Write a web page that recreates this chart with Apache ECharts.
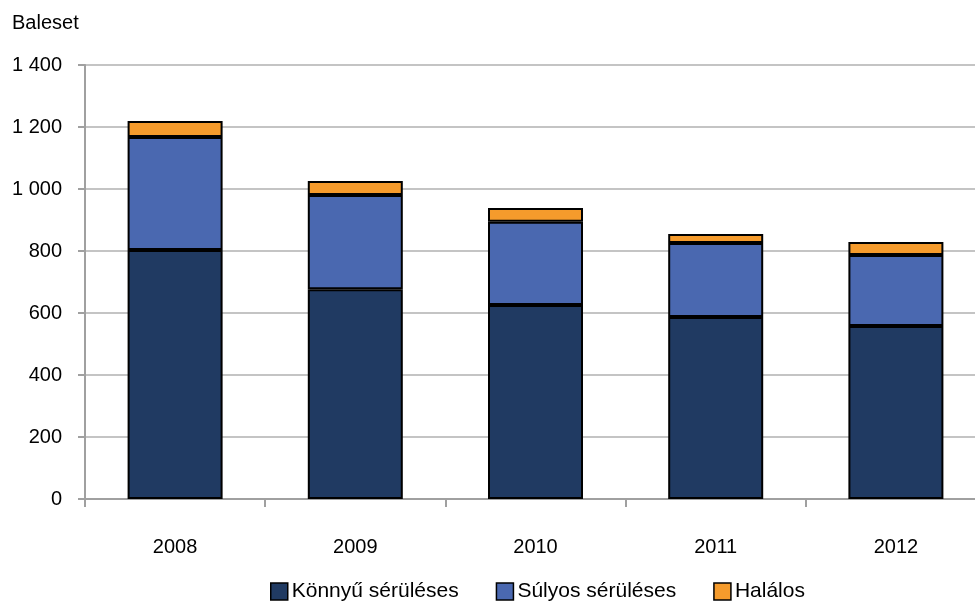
<!DOCTYPE html>
<html><head><meta charset="utf-8">
<script src="https://cdn.jsdelivr.net/npm/echarts@6/dist/echarts.min.js"></script>
<style>html,body{margin:0;padding:0;background:#fff;overflow:hidden;width:975px;height:603px}#c{width:995px;height:603px}</style>
</head><body><div id="c"></div>
<script>
var categories = ['2008','2009','2010','2011','2012'];
var konnyu = [803, 677, 626, 587, 558];
var sulyos = [365, 304, 268, 239, 229];
var halalos = [51, 45, 45, 29, 42];
var seriesNames = ['Könnyű sérüléses','Súlyos sérüléses','Halálos'];
var FONT = '"Liberation Sans",Arial,sans-serif';
var chart = echarts.init(document.getElementById('c'));
function fmt(v){ return String(v).replace(/\B(?=(\d{3})+(?!\d))/g,' '); }
function ser(name, data, color){
  return {name:name, type:'bar', stack:'a', data:data, barWidth:95,
    itemStyle:{color:color, borderColor:'#000', borderWidth:2}};
}
chart.setOption({
  animation:false,
  textStyle:{fontFamily:FONT},
  title:{text:'Baleset', left:7, top:8, textStyle:{fontFamily:FONT, fontSize:20, fontWeight:'normal', color:'#000'}},
  grid:{left:85, width:901, top:65, bottom:104},
  legend:{bottom:-4, left:265, itemWidth:17, itemHeight:17, itemGap:37,
    textStyle:{fontFamily:FONT, fontSize:21, color:'#000', padding:[0,0,0,-1]},
    data:seriesNames.map(function(n){return {name:n, icon:'rect', itemStyle:{borderColor:'#000', borderWidth:1.5}};})},
  xAxis:{type:'category', data:categories,
    axisLine:{lineStyle:{color:'#a0a0a0', width:2}},
    axisTick:{show:true, length:8, lineStyle:{color:'#a0a0a0', width:2}},
    axisLabel:{color:'#000', fontSize:20, margin:38, fontFamily:FONT}},
  yAxis:{type:'value', min:0, max:1400, interval:200,
    axisLine:{show:true, lineStyle:{color:'#a0a0a0', width:2}},
    axisTick:{show:true, length:7, lineStyle:{color:'#a0a0a0', width:2}},
    splitLine:{lineStyle:{color:'#c4c4c4', width:2}},
    axisLabel:{color:'#000', fontSize:20, margin:23, fontFamily:FONT, formatter:fmt}},
  series:[ser(seriesNames[0], konnyu, '#203a62'), ser(seriesNames[1], sulyos, '#4a68b0'), ser(seriesNames[2], halalos, '#f59b2c')]
});
</script></body></html>
